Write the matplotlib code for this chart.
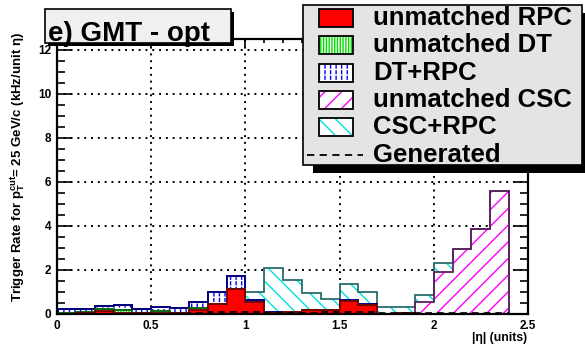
import numpy as np
import matplotlib
matplotlib.use("Agg")
import matplotlib.pyplot as plt
from matplotlib.patches import Rectangle
from matplotlib.lines import Line2D

plt.rcParams['font.family'] = ['Liberation Sans', 'DejaVu Sans']
plt.rcParams['font.weight'] = 'bold'
plt.rcParams['mathtext.fontset'] = 'custom'
plt.rcParams['mathtext.rm'] = 'Liberation Sans:bold'
plt.rcParams['mathtext.it'] = 'Liberation Sans:bold'
plt.rcParams['mathtext.bf'] = 'Liberation Sans:bold'

# |eta| bins (lower edges, width 0.1)
eta_lo = [0.0, 0.1, 0.2, 0.3, 0.4, 0.5, 0.6, 0.7, 0.8, 0.9, 1.0, 1.1,
          1.2, 1.3, 1.4, 1.5, 1.6, 1.7, 1.8, 1.9, 2.0, 2.1, 2.2, 2.3]
bin_w = 0.1

# rate per bin, kHz/unit eta, one array per stack component
unm_rpc = [0.02, 0.05, 0.12, 0.06, 0.03, 0.04, 0.03, 0.18, 0.45, 1.14, 0.56, 0.06,
           0.07, 0.16, 0.20, 0.60, 0.42, 0.02, 0.05, 0.02, 0.00, 0.00, 0.00, 0.00]
unm_dt = [0.03, 0.03, 0.12, 0.12, 0.02, 0.11, 0.03, 0.08, 0.02, 0.00, 0.00, 0.00,
          0.00, 0.00, 0.00, 0.00, 0.00, 0.00, 0.00, 0.00, 0.00, 0.00, 0.00, 0.00]
dt_rpc = [0.18, 0.15, 0.12, 0.24, 0.18, 0.17, 0.21, 0.27, 0.55, 0.60, 0.08, 0.02,
          0.00, 0.00, 0.00, 0.03, 0.05, 0.00, 0.00, 0.00, 0.00, 0.00, 0.00, 0.00]
unm_csc = [0.00, 0.00, 0.00, 0.00, 0.00, 0.00, 0.00, 0.00, 0.00, 0.00, 0.00, 0.00,
           0.00, 0.00, 0.00, 0.00, 0.00, 0.00, 0.00, 0.54, 1.92, 2.95, 3.86, 5.60]
csc_rpc = [0.00, 0.00, 0.00, 0.00, 0.00, 0.02, 0.00, 0.00, 0.00, 0.00, 0.38, 2.02,
           1.48, 0.78, 0.50, 0.74, 0.53, 0.31, 0.28, 0.32, 0.38, 0.02, 0.00, 0.00]
generated = [0.02, 0.02, 0.02, 0.02, 0.02, 0.02, 0.02, 0.03, 0.08, 0.08, 0.08, 0.03,
             0.03, 0.06, 0.08, 0.08, 0.08, 0.03, 0.03, 0.03, 0.03, 0.03, 0.03, 0.03]

labels = ['unmatched RPC', 'unmatched DT', 'DT+RPC', 'unmatched CSC', 'CSC+RPC']
layers = [unm_rpc, unm_dt, dt_rpc, unm_csc, csc_rpc]
faces = ['#ff0000', 'white', 'white', 'white', 'white']
hatches = [None, '||||||', '|||', '//', '\\\\']
hatch_cols = ['#ff0000', '#00dd00', '#0000ff', '#ff00ff', '#00e0e0']
line_cols = ['#7a0000', '#006000', '#000080', '#602060', '#2a6e6e']

W, H = 585, 345
fig = plt.figure(figsize=(W / 100, H / 100), dpi=100)
fig.patch.set_facecolor('white')


def fx(x):
    return x / W


def fy(y):
    return 1 - y / H


ax = fig.add_axes([fx(57), fy(314), fx(528) - fx(57), fy(39) - fy(314)])
ax.set_xlim(0, 2.5)
ax.set_ylim(0, 12.5)

lo = np.array(eta_lo)
edges = np.append(lo, lo[-1] + bin_w)
cum = np.cumsum(np.array(layers), axis=0)
base = np.vstack([np.zeros(len(lo)), cum[:-1]])

# stacked bands
for i in range(len(layers)):
    ax.bar(lo, layers[i], bottom=base[i], width=bin_w, align='edge',
           facecolor=faces[i], edgecolor=hatch_cols[i], hatch=hatches[i],
           linewidth=0, zorder=2)
    if i == 2:
        # break the blue lines into short dashes
        ax.bar(lo, layers[i], bottom=base[i], width=bin_w, align='edge',
               facecolor='none', edgecolor='white', hatch='---',
               linewidth=0, zorder=2.1)

# outlines, top of stack first so lower ones stay visible
for i in range(len(layers) - 1, -1, -1):
    ax.stairs(cum[i], edges, color=line_cols[i], lw=1.3, zorder=3)

ax.stairs(generated, edges, baseline=None, color='black', lw=1.2,
          linestyle=(0, (4, 3)), zorder=3.5)

# axes style
ax.set_xticks([0, 0.5, 1, 1.5, 2, 2.5])
ax.set_xticklabels(['0', '0.5', '1', '1.5', '2', '2.5'])
ax.set_xticks(np.arange(0, 2.51, 0.1), minor=True)
ax.set_yticks([0, 2, 4, 6, 8, 10, 12])
ax.set_yticks(np.arange(0, 12.51, 0.5), minor=True)
ax.tick_params(axis='x', which='both', direction='in', bottom=False, top=True,
               labelbottom=True, labelsize=8.5, pad=4, width=1.2)
ax.tick_params(axis='x', which='major', length=6)
ax.tick_params(axis='x', which='minor', length=3)
ax.tick_params(axis='y', which='both', direction='in', left=True, right=True,
               labelsize=8.5, pad=4, width=1.2)
ax.tick_params(axis='y', which='major', length=10.5)
ax.tick_params(axis='y', which='minor', length=5.5)
for lab in ax.get_xticklabels() + ax.get_yticklabels():
    lab.set_fontweight('bold')
for s in ax.spines.values():
    s.set_linewidth(1.6)
    s.set_zorder(4)
ax.grid(True, which='major', color='black', linestyle=(0, (1, 2.5)), lw=1.4)
ax.set_axisbelow(True)

# axis titles
fig.text(fx(18), fy(32), r'Trigger Rate for p$_{T}^{cut}$= 25 GeV/c (kHz/unit η)',
         rotation=90, ha='center', va='top', fontsize=9.5, fontweight='bold')
fig.text(fx(527), fy(341), '|η| (units)', ha='right', va='baseline',
         fontsize=8.8, fontweight='bold')

# title box with shadow
fig.add_artist(Rectangle((fx(48), fy(46)), fx(234) - fx(48), fy(12) - fy(46),
                         transform=fig.transFigure, facecolor='black',
                         edgecolor='none', zorder=10))
fig.add_artist(Rectangle((fx(45), fy(43)), fx(231) - fx(45), fy(9) - fy(43),
                         transform=fig.transFigure, facecolor='#f0f0f0',
                         edgecolor='black', lw=1.2, zorder=11))
fig.text(fx(48), fy(41), 'e) GMT - opt', ha='left', va='baseline',
         fontsize=20, fontweight='bold', zorder=12)

# legend box with shadow
fig.add_artist(Rectangle((fx(313), fy(173)), fx(592) - fx(313), fy(13) - fy(173),
                         transform=fig.transFigure, facecolor='black',
                         edgecolor='none', zorder=10))
fig.add_artist(Rectangle((fx(303), fy(165)), fx(582) - fx(303), fy(5) - fy(165),
                         transform=fig.transFigure, facecolor='#e4e4e4',
                         edgecolor='black', lw=1.2, zorder=11))

row_c = [18, 45.3, 72.6, 99.9, 127.2, 154.5]
for i in range(len(layers)):
    c = row_c[i]
    fig.add_artist(Rectangle((fx(319), fy(c + 9)), fx(353) - fx(319), fy(c - 9) - fy(c + 9),
                             transform=fig.transFigure, facecolor=faces[i],
                             edgecolor=hatch_cols[i], hatch=hatches[i], lw=0, zorder=12))
    if i == 2:
        fig.add_artist(Rectangle((fx(319), fy(c + 9)), fx(353) - fx(319),
                                 fy(c - 9) - fy(c + 9), transform=fig.transFigure,
                                 facecolor='none', edgecolor='white', hatch='---',
                                 lw=0, zorder=12.1))
    fig.add_artist(Rectangle((fx(319), fy(c + 9)), fx(353) - fx(319), fy(c - 9) - fy(c + 9),
                             transform=fig.transFigure, facecolor='none',
                             edgecolor='black', lw=1.3, zorder=12.2))
    fig.text(fx(373), fy(c + 7), labels[i], ha='left', va='baseline',
             fontsize=18.5, fontweight='bold', zorder=13)

fig.add_artist(Line2D([fx(307), fx(363)], [fy(row_c[5]), fy(row_c[5])],
                      transform=fig.transFigure, color='black', lw=1.3,
                      linestyle=(0, (4, 3)), zorder=12))
fig.text(fx(373), fy(row_c[5] + 7), 'Generated', ha='left', va='baseline',
         fontsize=18.5, fontweight='bold', zorder=13)

fig.savefig('out.png', dpi=100)
